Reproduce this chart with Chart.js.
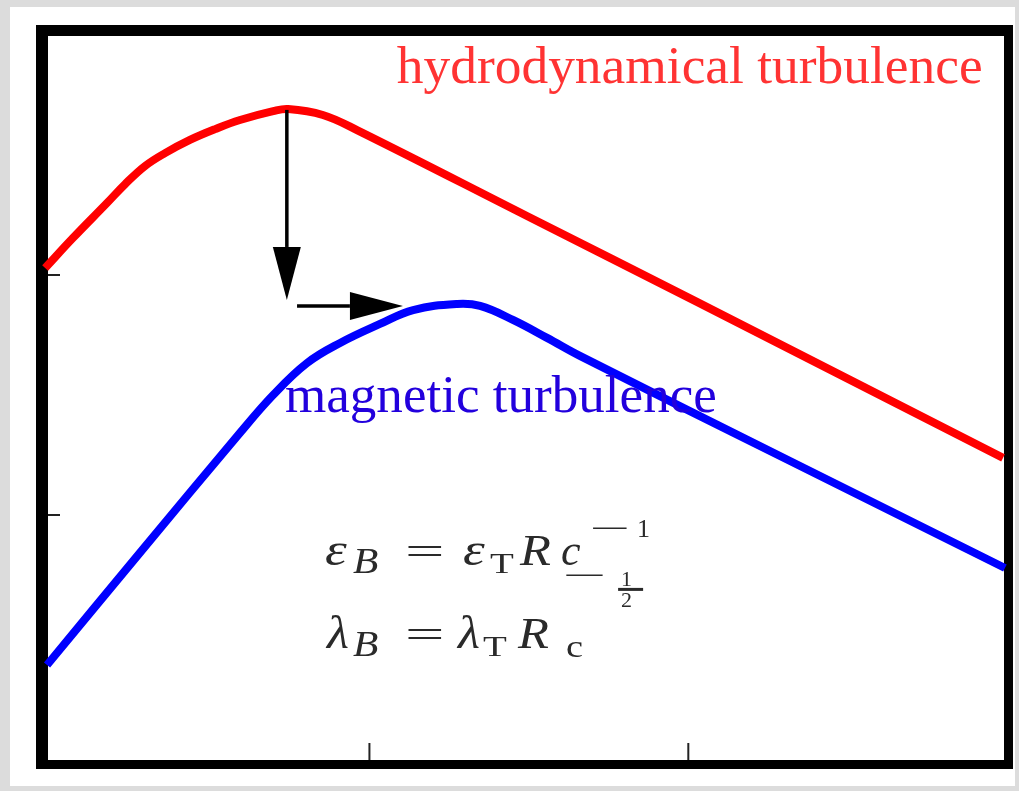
<!DOCTYPE html>
<html>
<head>
<meta charset="utf-8">
<script src="https://cdn.jsdelivr.net/npm/chart.js@4"></script>
<style>
  html, body { margin: 0; padding: 0; background: #dcdcdc; width: 1019px; height: 791px; overflow: hidden; }
  #paper { position: absolute; left: 10px; top: 7px; width: 1005px; height: 779px; background: #ffffff; }
  #c { position: absolute; left: 0; top: 0; }
</style>
</head>
<body>
<div id="paper"></div>
<canvas id="c" width="1019" height="791"></canvas>
<script>
// ---- data (axis units: decades) ----
const xTicks = [1, 2];
const yTicks = [1, 2];

const hydroX = [-0.017, 0.070, 0.177, 0.234, 0.296, 0.359, 0.437, 0.516, 0.594, 0.698, 0.745, 0.854, 0.961, 1.494, 2.027, 2.987];
const hydroY = [2.029, 2.154, 2.300, 2.379, 2.454, 2.508, 2.563, 2.608, 2.646, 2.683, 2.692, 2.667, 2.604, 2.246, 1.888, 1.238];

const magX = [-0.011, 0.280, 0.594, 0.698, 0.804, 0.908, 1.033, 1.137, 1.275, 1.347, 1.450, 1.557, 1.660, 2.319, 2.993];
const magY = [0.375, 0.842, 1.342, 1.500, 1.633, 1.717, 1.796, 1.854, 1.879, 1.871, 1.813, 1.738, 1.663, 1.225, 0.779];

// arrows: [x0, y0, x1(tip), y1(tip)]
const arrowsV = [0.741, 2.688, 0.741, 1.896];
const arrowsH = [0.773, 1.871, 1.105, 1.871];

const hydroLabel = 'hydrodynamical turbulence';
const magLabel = 'magnetic turbulence';

function pts(xs, ys) { return xs.map((x, i) => ({ x: x, y: ys[i] })); }

const framePlugin = {
  id: 'frame',
  beforeDatasetsDraw(chart) {
    const ctx = chart.ctx, a = chart.chartArea;
    const xs = chart.scales.x, ys = chart.scales.y;
    ctx.save();
    ctx.fillStyle = '#000';
    ctx.fillRect(a.left - 12, a.top - 11, a.right - a.left + 21, 11);
    ctx.fillRect(a.left - 12, a.top - 11, 12, a.bottom - a.top + 20);
    ctx.fillRect(a.right, a.top - 11, 9, a.bottom - a.top + 20);
    ctx.fillRect(a.left - 12, a.bottom, a.right - a.left + 21, 9);
    ctx.strokeStyle = '#222';
    ctx.lineWidth = 2;
    yTicks.forEach(v => {
      const p = ys.getPixelForValue(v);
      ctx.beginPath(); ctx.moveTo(a.left, p); ctx.lineTo(a.left + 12, p); ctx.stroke();
    });
    xTicks.forEach(v => {
      const p = xs.getPixelForValue(v);
      ctx.beginPath(); ctx.moveTo(p, a.bottom); ctx.lineTo(p, a.bottom - 17); ctx.stroke();
    });
    ctx.restore();
  },
  afterDatasetsDraw(chart) {
    const ctx = chart.ctx;
    const xs = chart.scales.x, ys = chart.scales.y;
    function arrow(ar, headLen, halfW) {
      const x0 = xs.getPixelForValue(ar[0]), y0 = ys.getPixelForValue(ar[1]);
      const x1 = xs.getPixelForValue(ar[2]), y1 = ys.getPixelForValue(ar[3]);
      const dx = x1 - x0, dy = y1 - y0, L = Math.hypot(dx, dy);
      const ux = dx / L, uy = dy / L;
      const bx = x1 - ux * headLen, by = y1 - uy * headLen;
      ctx.save();
      ctx.strokeStyle = '#000'; ctx.fillStyle = '#000'; ctx.lineWidth = 3.5;
      ctx.beginPath(); ctx.moveTo(x0, y0); ctx.lineTo(bx, by); ctx.stroke();
      ctx.beginPath();
      ctx.moveTo(x1, y1);
      ctx.lineTo(bx - uy * halfW, by + ux * halfW);
      ctx.lineTo(bx + uy * halfW, by - ux * halfW);
      ctx.closePath(); ctx.fill();
      ctx.restore();
    }
    arrow(arrowsV, 53, 14);
    arrow(arrowsH, 53, 14);
  },
  afterDraw(chart) {
    const ctx = chart.ctx;
    const xs = chart.scales.x, ys = chart.scales.y;
    function fitText(text, color, xv, yv, targetW, baseSize) {
      ctx.save();
      ctx.font = baseSize + 'px "Liberation Serif"';
      const w = ctx.measureText(text).width;
      const size = baseSize * targetW / w;
      ctx.font = size + 'px "Liberation Serif"';
      ctx.fillStyle = color;
      ctx.textBaseline = 'alphabetic';
      ctx.fillText(text, xs.getPixelForValue(xv), ys.getPixelForValue(yv));
      ctx.restore();
    }
    fitText(hydroLabel, '#ff3333', 1.086, 2.80, 586, 52);
    fitText(magLabel, '#2200dd', 0.735, 1.429, 432, 48);

    // equations, anchored at (0.861, 0.792)
    const ax = xs.getPixelForValue(0.861), ay = ys.getPixelForValue(0.792);
    // [text, style, size, dx, dy, stretchX]
    const runs = [
      ['ε', 'italic', 46, 0, 0, 1.2],
      ['B', 'italic', 36, 28, 8, 1.15],
      ['=', '', 40, 80, 0, 1.75],
      ['ε', 'italic', 46, 138, 0, 1.2],
      ['T', '', 30, 165, 8, 1.3],
      ['R', 'italic', 44, 195, 0, 1.15],
      ['c', 'italic', 44, 236, 0, 1],
      ['−', '', 30, 265, -27, 2.4],
      ['1', '', 26, 312, -28, 1],
      ['λ', 'italic', 46, 2, 83, 1.1],
      ['B', 'italic', 36, 28, 91, 1.15],
      ['=', '', 40, 80, 83, 1.75],
      ['λ', 'italic', 46, 133, 83, 1.1],
      ['T', '', 30, 158, 91, 1.3],
      ['R', 'italic', 44, 193, 83, 1.15],
      ['c', '', 32, 241, 92, 1.2],
      ['−', '', 30, 238, 20, 2.6],
      ['1', '', 22, 296, 21, 1],
      ['2', '', 22, 296, 42, 1]
    ];
    ctx.save();
    ctx.fillStyle = '#2a2a2a';
    ctx.textBaseline = 'alphabetic';
    runs.forEach(r => {
      ctx.save();
      ctx.font = (r[1] ? r[1] + ' ' : '') + r[2] + 'px "Liberation Serif"';
      ctx.translate(ax + r[3], ay + r[4]);
      ctx.scale(r[5], 1);
      ctx.fillText(r[0], 0, 0);
      ctx.restore();
    });
    ctx.fillRect(ax + 293, ay + 23, 25, 3);
    ctx.restore();
  }
};

new Chart(document.getElementById('c'), {
  type: 'line',
  data: {
    datasets: [
      { label: 'hydrodynamical turbulence', data: pts(hydroX, hydroY), borderColor: '#ff0000', borderWidth: 8,
        pointRadius: 0, tension: 0.4, clip: false, fill: false },
      { label: 'magnetic turbulence', data: pts(magX, magY), borderColor: '#0000ff', borderWidth: 8,
        pointRadius: 0, tension: 0.4, clip: false, fill: false }
    ]
  },
  options: {
    responsive: false,
    animation: false,
    devicePixelRatio: 1,
    layout: { padding: { left: 48, top: 36, right: 15, bottom: 31 } },
    plugins: { legend: { display: false }, tooltip: { enabled: false } },
    scales: {
      x: { type: 'linear', min: -0.008, max: 2.99, display: false },
      y: { type: 'linear', min: -0.021, max: 2.996, display: false }
    }
  },
  plugins: [framePlugin]
});
</script>
</body>
</html>
